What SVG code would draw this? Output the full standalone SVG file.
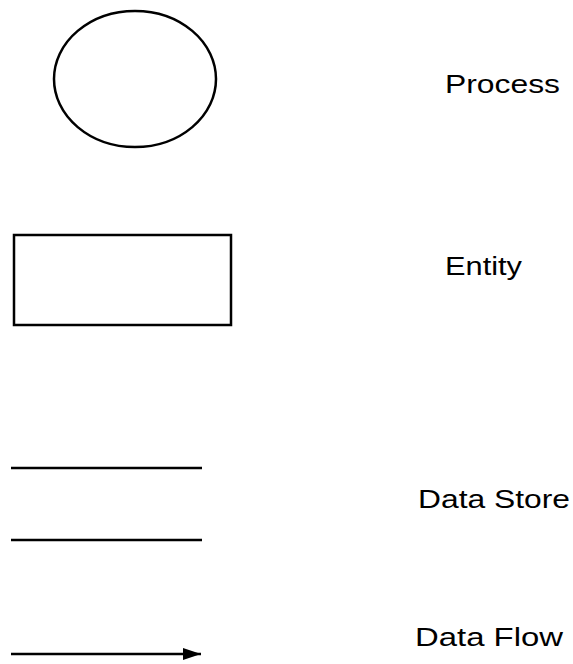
<svg xmlns="http://www.w3.org/2000/svg" width="573" height="664" viewBox="0 0 573 664">
  <style>
    .shape { fill: none; stroke: #000; stroke-width: 2.5; }
    .line { stroke: #000; stroke-width: 2.5; fill: none; }
    .label { font-family: "Liberation Sans", Arial, sans-serif; font-size: 25px; fill: #000; }
  </style>
  <defs>
    <marker id="arrow" viewBox="0 0 18 12" refX="18" refY="6" markerWidth="18" markerHeight="12" markerUnits="userSpaceOnUse" orient="auto">
      <path d="M0,0 L18,6 L0,12 Z" fill="#000"/>
    </marker>
  </defs>
  <rect width="573" height="664" fill="#fff"/>

  <!-- Process symbol -->
  <g id="process">
    <ellipse class="shape" cx="135" cy="79" rx="81" ry="68"/>
    <text class="label" x="445" y="93" textLength="115" lengthAdjust="spacingAndGlyphs">Process</text>
  </g>

  <!-- Entity symbol -->
  <g id="entity">
    <rect class="shape" x="14" y="235" width="217" height="90"/>
    <text class="label" x="445" y="275" textLength="77" lengthAdjust="spacingAndGlyphs">Entity</text>
  </g>

  <!-- Data store symbol: two parallel lines -->
  <g id="data-store">
    <line class="line" x1="11" y1="468" x2="202" y2="468"/>
    <line class="line" x1="11" y1="540" x2="202" y2="540"/>
    <text class="label" x="418" y="508" textLength="152" lengthAdjust="spacingAndGlyphs">Data Store</text>
  </g>

  <!-- Data flow symbol -->
  <g id="data-flow">
    <text class="label" x="415" y="646" textLength="148" lengthAdjust="spacingAndGlyphs">Data Flow</text>
  </g>

  <g id="connectors">
    <line class="line" x1="11" y1="654" x2="201" y2="654" marker-end="url(#arrow)"/>
  </g>
</svg>
